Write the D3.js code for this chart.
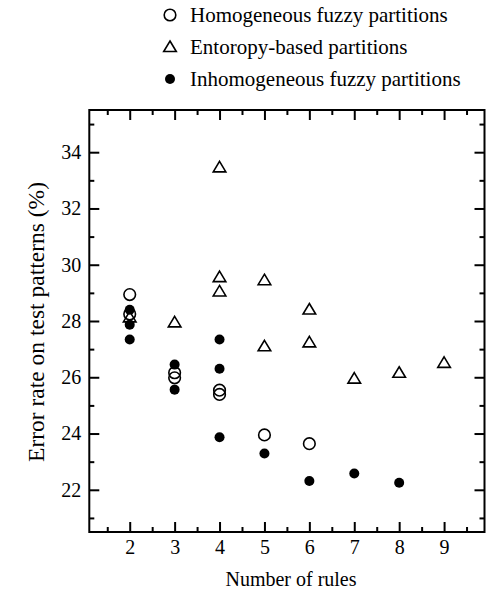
<!DOCTYPE html>
<html>
<head>
<meta charset="utf-8">
<script src="https://cdn.jsdelivr.net/npm/d3@7"></script>
<style>
  html, body { margin: 0; padding: 0; background: #fff; }
  svg { display: block; }
  text { font-family: "Liberation Serif", "Times New Roman", serif; fill: #000; }
</style>
</head>
<body>
<svg id="chart" width="487" height="595"></svg>
<script>
// ---- Data ----
const seriesNames = ["Homogeneous fuzzy partitions", "Entoropy-based partitions", "Inhomogeneous fuzzy partitions"];
const homogeneousRules = [2, 2, 3, 3, 4, 4, 5, 6];
const homogeneousError = [28.94, 28.25, 26.16, 25.98, 25.54, 25.39, 23.95, 23.64];
const entropyRules = [2, 3, 4, 4, 4, 5, 5, 6, 6, 7, 8, 9];
const entropyError = [28.13, 27.95, 33.46, 29.56, 29.05, 29.45, 27.10, 28.41, 27.24, 25.95, 26.16, 26.51];
const inhomogeneousRules = [2, 2, 2, 3, 3, 4, 4, 4, 5, 6, 7, 8];
const inhomogeneousError = [28.40, 27.87, 27.34, 26.45, 25.56, 27.34, 26.30, 23.87, 23.29, 22.31, 22.58, 22.25];
const xTickValues = [2, 3, 4, 5, 6, 7, 8, 9];
const xMinorTicks = [1.5, 2.5, 3.5, 4.5, 5.5, 6.5, 7.5, 8.5, 9.5];
const yTickValues = [22, 24, 26, 28, 30, 32, 34];
const yMinorTicks = [21, 23, 25, 27, 29, 31, 33, 35];
const xLabel = "Number of rules";
const yLabel = "Error rate on test patterns (%)";

// ---- Layout ----
const FONT = '"Liberation Serif", "Times New Roman", serif';
const svg = d3.select("#chart");
const margin = { left: 89.3, right: 2.5, top: 110, bottom: 63 };
const W = 487, H = 595;
const x = d3.scaleLinear().domain([1.1, 9.9]).range([margin.left, W - margin.right]);
const y = d3.scaleLinear().domain([20.5, 35.5]).range([H - margin.bottom, margin.top]);

const axisStyle = g => {
  g.attr("font-family", FONT);
  g.select(".domain").remove();
  g.selectAll(".tick line").attr("stroke", "#000").attr("stroke-width", 2);
  g.selectAll(".tick text").style("font-size", "20px").style("font-family", FONT).attr("fill", "#000");
};

// bottom major
svg.append("g").attr("transform", `translate(0,${y(20.5)})`)
  .call(d3.axisBottom(x).tickValues(xTickValues).tickFormat(d3.format("d")).tickSizeInner(-10).tickSizeOuter(0).tickPadding(8))
  .call(axisStyle);
// bottom minor
svg.append("g").attr("transform", `translate(0,${y(20.5)})`)
  .call(d3.axisBottom(x).tickValues(xMinorTicks).tickFormat("").tickSizeInner(-5).tickSizeOuter(0))
  .call(axisStyle);
// top
svg.append("g").attr("transform", `translate(0,${y(35.5)})`)
  .call(d3.axisTop(x).tickValues(xTickValues).tickFormat("").tickSizeInner(-10).tickSizeOuter(0))
  .call(axisStyle);
svg.append("g").attr("transform", `translate(0,${y(35.5)})`)
  .call(d3.axisTop(x).tickValues(xMinorTicks).tickFormat("").tickSizeInner(-5).tickSizeOuter(0))
  .call(axisStyle);
// left
svg.append("g").attr("transform", `translate(${x(1.1)},0)`)
  .call(d3.axisLeft(y).tickValues(yTickValues).tickFormat(d3.format("d")).tickSizeInner(-10).tickSizeOuter(0).tickPadding(8))
  .call(axisStyle);
svg.append("g").attr("transform", `translate(${x(1.1)},0)`)
  .call(d3.axisLeft(y).tickValues(yMinorTicks).tickFormat("").tickSizeInner(-5).tickSizeOuter(0))
  .call(axisStyle);
// right
svg.append("g").attr("transform", `translate(${x(9.9)},0)`)
  .call(d3.axisRight(y).tickValues(yTickValues).tickFormat("").tickSizeInner(-10).tickSizeOuter(0))
  .call(axisStyle);
svg.append("g").attr("transform", `translate(${x(9.9)},0)`)
  .call(d3.axisRight(y).tickValues(yMinorTicks).tickFormat("").tickSizeInner(-5).tickSizeOuter(0))
  .call(axisStyle);

// frame
svg.append("rect")
  .attr("x", x(1.1)).attr("y", y(35.5))
  .attr("width", x(9.9) - x(1.1)).attr("height", y(20.5) - y(35.5))
  .attr("fill", "none").attr("stroke", "#000").attr("stroke-width", 2);

// ---- Markers ----
const triPath = "M0,-6 L6.3,4.5 L-6.3,4.5 Z";
const pts = (xs, ys) => xs.map((v, i) => ({ x: v, y: ys[i] }));

const gPts = svg.append("g");
gPts.selectAll("circle.homo").data(pts(homogeneousRules, homogeneousError)).join("circle")
  .attr("class", "homo")
  .attr("cx", d => x(d.x)).attr("cy", d => y(d.y)).attr("r", 5.8)
  .attr("fill", "none").attr("stroke", "#000").attr("stroke-width", 1.6);
gPts.selectAll("path.ent").data(pts(entropyRules, entropyError)).join("path")
  .attr("class", "ent")
  .attr("d", triPath)
  .attr("transform", d => `translate(${x(d.x)},${y(d.y)})`)
  .attr("fill", "none").attr("stroke", "#000").attr("stroke-width", 1.6).attr("stroke-linejoin", "miter");
gPts.selectAll("circle.inh").data(pts(inhomogeneousRules, inhomogeneousError)).join("circle")
  .attr("class", "inh")
  .attr("cx", d => x(d.x)).attr("cy", d => y(d.y)).attr("r", 5)
  .attr("fill", "#000");

// ---- Axis labels ----
svg.append("text").attr("x", 291).attr("y", 586).attr("text-anchor", "middle")
  .style("font-size", "20px").style("font-family", FONT).text(xLabel);
svg.append("text").attr("transform", "translate(44,322) rotate(-90)").attr("text-anchor", "middle")
  .style("font-size", "23.5px").style("font-family", FONT).text(yLabel);

// ---- Legend ----
const legY = [15, 47, 79];
const leg = svg.append("g");
leg.append("circle").attr("cx", 170).attr("cy", legY[0]).attr("r", 5.8)
  .attr("fill", "none").attr("stroke", "#000").attr("stroke-width", 1.6);
leg.append("path").attr("d", triPath).attr("transform", `translate(170,${legY[1]})`)
  .attr("fill", "none").attr("stroke", "#000").attr("stroke-width", 1.6);
leg.append("circle").attr("cx", 170).attr("cy", legY[2]).attr("r", 5).attr("fill", "#000");
seriesNames.forEach((n, i) => {
  leg.append("text").attr("x", 190).attr("y", legY[i] + 7).style("font-size", "21px").style("font-family", FONT).text(n);
});
</script>
</body>
</html>
